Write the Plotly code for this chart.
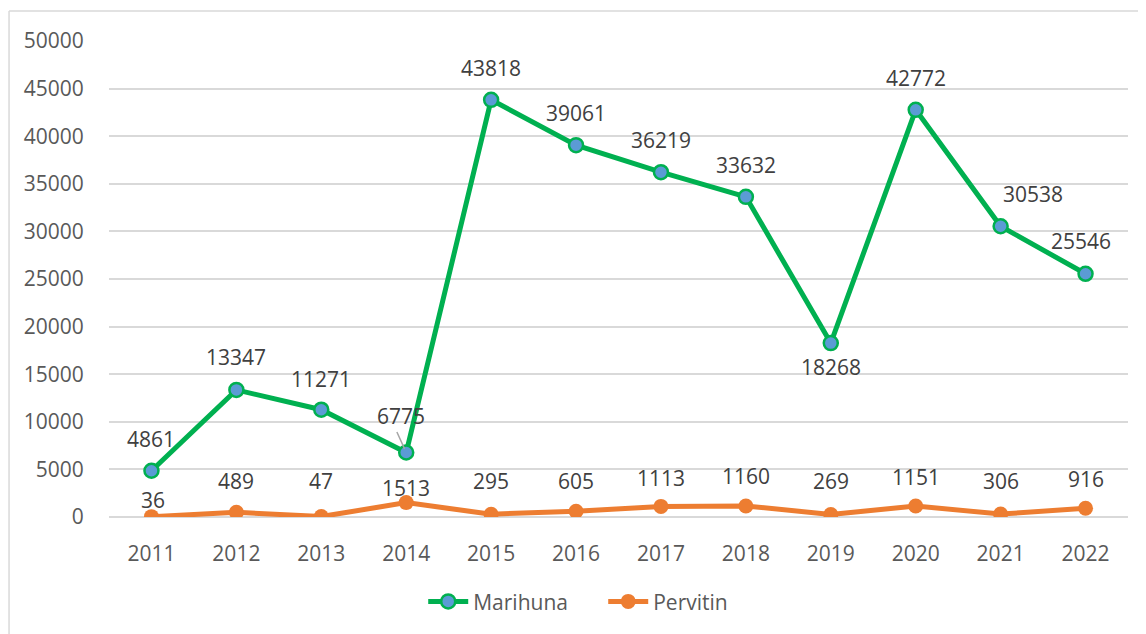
import plotly.graph_objects as go

years = ["2011", "2012", "2013", "2014", "2015", "2016", "2017", "2018", "2019", "2020", "2021", "2022"]
marihuna = [4861, 13347, 11271, 6775, 43818, 39061, 36219, 33632, 18268, 42772, 30538, 25546]
pervitin = [36, 489, 47, 1513, 295, 605, 1113, 1160, 269, 1151, 306, 916]

# label offsets (pixels) – style only
mar_yshift = [32, 33, 31, 37, 32, 32, 32, 32, -24, 32, 32, 33]
mar_xshift = [0, 0, 0, -5, 0, 0, 0, 0, 0, 0, 32, -5]
per_yshift = [17, 31, 36, 15, 33, 30, 28, 30, 33, 29, 33, 29]
per_xshift = [2, 0, 0, 0, 0, 0, 0, 0, 0, 0, 0, 0]

GREEN = "#00b050"
BLUE = "#5b9bd5"
ORANGE = "#ed7d31"
FONT = "Open Sans"

fig = go.Figure()
fig.add_trace(go.Scatter(
    x=years, y=marihuna, name="Marihuna", mode="lines+markers",
    line=dict(color=GREEN, width=5),
    marker=dict(size=14, color=BLUE, line=dict(color=GREEN, width=2.5)),
))
fig.add_trace(go.Scatter(
    x=years, y=pervitin, name="Pervitin", mode="lines+markers",
    line=dict(color=ORANGE, width=5),
    marker=dict(size=15, color=ORANGE, line=dict(color=ORANGE, width=0)),
))

annotations = []
for i, v in enumerate(marihuna):
    annotations.append(dict(x=i, y=v, xref="x", yref="y", text=str(v), showarrow=False,
                            yshift=mar_yshift[i], xshift=mar_xshift[i],
                            font=dict(family=FONT, size=21, color="#404040")))
for i, v in enumerate(pervitin):
    annotations.append(dict(x=i, y=v, xref="x", yref="y", text=str(v), showarrow=False,
                            yshift=per_yshift[i], xshift=per_xshift[i],
                            font=dict(family=FONT, size=21, color="#404040")))
# leader line for 2014 Marihuna label
annotations.append(dict(x=3, y=marihuna[3], xref="x", yref="y", text="", showarrow=True,
                        arrowhead=0, arrowwidth=1.5, arrowcolor="#a6a6a6",
                        axref="pixel", ayref="pixel", ax=-10, ay=-22, standoff=4))

fig.update_layout(
    width=1138, height=626,
    margin=dict(l=101, r=18, t=33, b=115),
    paper_bgcolor="white", plot_bgcolor="white",
    font=dict(family=FONT, size=21, color="#595959"),
    showlegend=True,
    legend=dict(orientation="h", x=0.485, xanchor="center", y=-0.178, yanchor="middle",
                font=dict(family=FONT, size=21, color="#595959"), itemwidth=40,
                entrywidth=125, entrywidthmode="pixels"),
    annotations=annotations,
    shapes=[
        dict(type="line", xref="paper", yref="paper", x0=-0.0981, x1=-0.0981,
             y0=-0.25, y1=1.0629, line=dict(color="#d9d9d9", width=1.5)),
        dict(type="line", xref="paper", yref="paper", x0=-0.0981, x1=1.02,
             y0=1.0629, y1=1.0629, line=dict(color="#d9d9d9", width=1.5)),
    ],
)
fig.update_xaxes(type="category", range=[-0.5, 11.5], showgrid=False,
                 showline=False, zeroline=False,
                 ticks="outside", ticklen=18, tickcolor="rgba(0,0,0,0)",
                 tickfont=dict(family=FONT, size=21, color="#595959"))
fig.update_yaxes(range=[0, 50000], dtick=5000, tickformat="d",
                 showgrid=True, gridcolor="#d9d9d9", gridwidth=1.5,
                 zeroline=True, zerolinecolor="#d9d9d9", zerolinewidth=1.5,
                 showline=False,
                 ticks="outside", ticklen=20, tickcolor="rgba(0,0,0,0)",
                 tickfont=dict(family=FONT, size=21, color="#595959"))

fig.write_html("out.html")
